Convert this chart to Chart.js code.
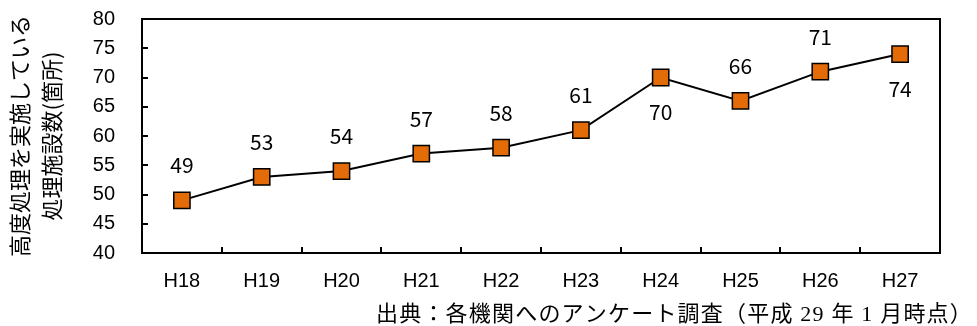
<!DOCTYPE html>
<html>
<head>
<meta charset="utf-8">
<script src="https://cdn.jsdelivr.net/npm/chart.js@4/dist/chart.umd.min.js"></script>
<style>
  html, body { margin: 0; padding: 0; background: #fff; }
  #wrap { width: 977px; height: 326px; }
</style>
</head>
<body>
<div id="wrap"><canvas id="facilityChart"></canvas></div>
<script>
// 高度処理を実施している処理施設数の推移
var years = ['H18', 'H19', 'H20', 'H21', 'H22', 'H23', 'H24', 'H25', 'H26', 'H27'];
var facilityCounts = [49, 53, 54, 57, 58, 61, 70, 66, 71, 74];
var yTicks = [40, 45, 50, 55, 60, 65, 70, 75, 80];
var sourceNote = '出典：各機関へのアンケート調査（平成 29 年 1 月時点）';

// 数値ラベル（上か下か）
var labelPlugin = {
    id: 'valueLabels',
    afterDatasetsDraw: function (chart, args, opts) {
        var ctx = chart.ctx;
        var meta = chart.getDatasetMeta(0);
        ctx.save();
        ctx.font = opts.font;
        ctx.fillStyle = '#000';
        ctx.textAlign = 'center';
        ctx.textBaseline = 'middle';
        meta.data.forEach(function (pt, i) {
            var dy = opts.below.indexOf(i) >= 0 ? opts.offset : -opts.offset;
            ctx.fillText(String(chart.data.datasets[0].data[i]), pt.x, pt.y + dy);
        });
        ctx.restore();
    }
};

// プロット領域の枠線と出典
var framePlugin = {
    id: 'frame',
    afterDraw: function (chart, args, opts) {
        var a = chart.chartArea;
        var ctx = chart.ctx;
        ctx.save();
        ctx.strokeStyle = '#000';
        ctx.lineWidth = 2;
        ctx.strokeRect(a.left, a.top, a.right - a.left, a.bottom - a.top);

        ctx.font = opts.noteFont;
        ctx.letterSpacing = opts.noteSpacing;
        ctx.fillStyle = '#000';
        ctx.textAlign = 'right';
        ctx.textBaseline = 'middle';
        ctx.fillText(sourceNote, chart.width - 4, chart.height - 11);
        ctx.restore();
    }
};

var ctxFacility = document.getElementById('facilityChart').getContext('2d');
var facilityChart = new Chart(ctxFacility, {
    type: 'line',
    data: {
        labels: years,
        datasets: [{
            data: facilityCounts,
            borderColor: '#000',
            borderWidth: 2,
            pointStyle: 'rect',
            pointRadius: 11.5,
            pointBackgroundColor: '#E36C09',
            pointBorderColor: '#000',
            pointBorderWidth: 1.5,
            tension: 0
        }]
    },
    options: {
        responsive: true,
        maintainAspectRatio: false,
        animation: false,
        layout: { padding: { left: 0, top: 19, right: 37, bottom: 0 } },
        plugins: {
            legend: { display: false },
            tooltip: { enabled: false },
            valueLabels: {
                font: "21px 'Noto Sans CJK JP', sans-serif",
                offset: 35,
                below: [6, 9]
            },
            frame: {
                noteFont: "22px 'Liberation Serif', 'Noto Sans CJK JP', serif",
                noteSpacing: '1.2px'
            }
        },
        scales: {
            x: {
                offset: true,
                grid: { offset: true, drawOnChartArea: false, tickLength: -6, color: '#000', lineWidth: 2 },
                border: { color: '#000', width: 2 },
                ticks: {
                    color: '#000',
                    padding: 22,
                    font: { family: "'Liberation Sans', Arial, sans-serif", size: 20 }
                },
                afterFit: function (scale) {
                    scale.height = 73;
                    scale.paddingLeft = 0;
                    scale.paddingRight = 0;
                }
            },
            y: {
                min: yTicks[0],
                max: yTicks[yTicks.length - 1],
                grid: { drawOnChartArea: false, tickLength: -6, color: '#000', lineWidth: 2 },
                border: { color: '#000', width: 2 },
                ticks: {
                    color: '#000',
                    stepSize: yTicks[1] - yTicks[0],
                    autoSkip: false,
                    padding: 33,
                    font: { family: "'Liberation Sans', Arial, sans-serif", size: 20 }
                },
                title: {
                    display: true,
                    text: ['高度処理を実施している', '処理施設数(箇所)'],
                    color: '#000',
                    font: { family: "'Noto Sans CJK JP', sans-serif", size: 22, lineHeight: 1.45 },
                    padding: { top: 4, bottom: 0 }
                },
                afterFit: function (scale) {
                    scale.width = 142;
                    scale.paddingTop = 0;
                    scale.paddingBottom = 0;
                }
            }
        }
    },
    plugins: [labelPlugin, framePlugin]
});
</script>
</body>
</html>
